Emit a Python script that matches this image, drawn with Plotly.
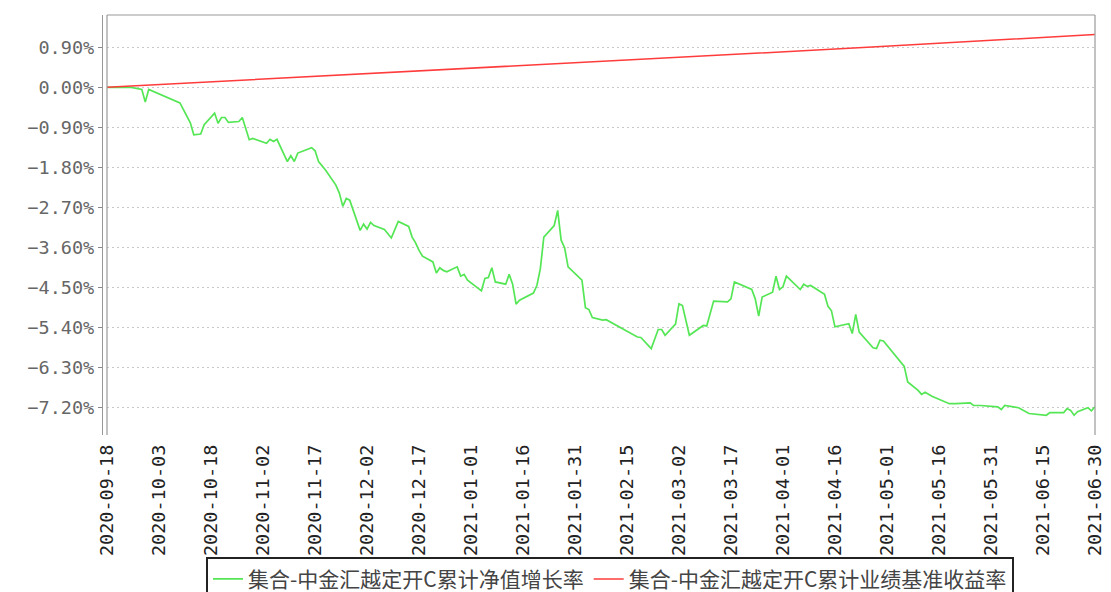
import plotly.graph_objects as go

# ---- data ----
fund_name = "集合-中金汇越定开C累计净值增长率"
bench_name = "集合-中金汇越定开C累计业绩基准收益率"

fund_dates = [
    "2020-09-18", "2020-09-21", "2020-09-25", "2020-09-28", "2020-09-29", "2020-09-30",
    "2020-10-09", "2020-10-12", "2020-10-13", "2020-10-15", "2020-10-16", "2020-10-19",
    "2020-10-20", "2020-10-21", "2020-10-22", "2020-10-23", "2020-10-26", "2020-10-27",
    "2020-10-29", "2020-10-30", "2020-11-03", "2020-11-04", "2020-11-05", "2020-11-06",
    "2020-11-09", "2020-11-10", "2020-11-11", "2020-11-12", "2020-11-16", "2020-11-17",
    "2020-11-18", "2020-11-20", "2020-11-23", "2020-11-24", "2020-11-25", "2020-11-26",
    "2020-11-27", "2020-11-30", "2020-12-01", "2020-12-02", "2020-12-03", "2020-12-04",
    "2020-12-07", "2020-12-09", "2020-12-10", "2020-12-11", "2020-12-14", "2020-12-15",
    "2020-12-16", "2020-12-17", "2020-12-18", "2020-12-21", "2020-12-22", "2020-12-23",
    "2020-12-24", "2020-12-25", "2020-12-28", "2020-12-29", "2020-12-30", "2020-12-31",
    "2021-01-04", "2021-01-05", "2021-01-06", "2021-01-07", "2021-01-08", "2021-01-11",
    "2021-01-12", "2021-01-13", "2021-01-14", "2021-01-15", "2021-01-19", "2021-01-20",
    "2021-01-21", "2021-01-22", "2021-01-25", "2021-01-26", "2021-01-27", "2021-01-28",
    "2021-01-29", "2021-02-02", "2021-02-03", "2021-02-04", "2021-02-05", "2021-02-08",
    "2021-02-09", "2021-02-18", "2021-02-19", "2021-02-22", "2021-02-24", "2021-02-25",
    "2021-02-26", "2021-03-01", "2021-03-02", "2021-03-03", "2021-03-05", "2021-03-09",
    "2021-03-10", "2021-03-12", "2021-03-16", "2021-03-17", "2021-03-18", "2021-03-23",
    "2021-03-24", "2021-03-25", "2021-03-26", "2021-03-29", "2021-03-30", "2021-03-31",
    "2021-04-01", "2021-04-02", "2021-04-06", "2021-04-07", "2021-04-08", "2021-04-09",
    "2021-04-13", "2021-04-14", "2021-04-15", "2021-04-16", "2021-04-20", "2021-04-21",
    "2021-04-22", "2021-04-23", "2021-04-27", "2021-04-28", "2021-04-29", "2021-04-30",
    "2021-05-06", "2021-05-07", "2021-05-10", "2021-05-11", "2021-05-12", "2021-05-14",
    "2021-05-19", "2021-05-21", "2021-05-25", "2021-05-26", "2021-05-28", "2021-06-02",
    "2021-06-03", "2021-06-04", "2021-06-08", "2021-06-11", "2021-06-16", "2021-06-17",
    "2021-06-21", "2021-06-22", "2021-06-23", "2021-06-24", "2021-06-25", "2021-06-28",
    "2021-06-29", "2021-06-30",
]
fund_values = [
    0.00, 0.00, 0.00, -0.05, -0.33, -0.05,
    -0.35, -0.80, -1.07, -1.05, -0.84, -0.58,
    -0.81, -0.68, -0.68, -0.79, -0.77, -0.68,
    -1.18, -1.15, -1.26, -1.17, -1.22, -1.17,
    -1.67, -1.54, -1.67, -1.48, -1.36, -1.43,
    -1.67, -1.86, -2.20, -2.38, -2.68, -2.50,
    -2.54, -3.22, -3.08, -3.19, -3.04, -3.11,
    -3.20, -3.39, -3.20, -3.02, -3.13, -3.37,
    -3.50, -3.67, -3.80, -3.93, -4.18, -4.06,
    -4.12, -4.15, -4.04, -4.25, -4.21, -4.34,
    -4.58, -4.30, -4.28, -4.06, -4.38, -4.43,
    -4.21, -4.43, -4.88, -4.79, -4.63, -4.46,
    -4.08, -3.37, -3.11, -2.77, -3.44, -3.61,
    -4.04, -4.34, -4.96, -5.00, -5.18, -5.24,
    -5.23, -5.62, -5.63, -5.88, -5.45, -5.45,
    -5.58, -5.33, -4.87, -4.91, -5.58, -5.36,
    -5.37, -4.81, -4.83, -4.76, -4.38, -4.55,
    -4.76, -5.15, -4.72, -4.61, -4.25, -4.55,
    -4.49, -4.25, -4.55, -4.43, -4.48, -4.46,
    -4.66, -4.93, -5.03, -5.39, -5.32, -5.54,
    -5.11, -5.51, -5.86, -5.88, -5.69, -5.71,
    -6.28, -6.63, -6.82, -6.91, -6.86, -6.95,
    -7.12, -7.12, -7.10, -7.16, -7.16, -7.19,
    -7.25, -7.16, -7.21, -7.34, -7.38, -7.32,
    -7.32, -7.23, -7.27, -7.38, -7.30, -7.21,
    -7.28, -7.19,
]

bench_dates = ["2020-09-18", "2020-11-11", "2021-02-12", "2021-04-28", "2021-06-30"]
bench_values = [0.00, 0.22, 0.61, 0.91, 1.19]

x_range = ["2020-09-17 23:00", "2021-06-30 01:00"]
x_tick0 = "2020-09-18"
x_tick_days = 15
y_range = [-7.824, 1.627]
y_step = 0.90

# ---- figure ----
W, H = 1111, 592
ML, MR, MT, MB = 102, 16, 15, 157
plot_w = W - ML - MR

fig = go.Figure()
fig.add_trace(go.Scatter(
    x=fund_dates, y=fund_values, name=fund_name, mode="lines",
    line=dict(color="#55e655", width=1.7),
))
fig.add_trace(go.Scatter(
    x=bench_dates, y=bench_values, name=bench_name, mode="lines",
    line=dict(color="#ff3b3b", width=1.5),
))

frame = dict(color="#999999", width=1.2)
for x0, y0, x1, y1 in [(0, 0, 0, 1), (0, 1, 1, 1), (1, 1, 1, 0)]:
    fig.add_shape(type="line", xref="x domain", yref="y domain",
                  x0=x0, y0=y0, x1=x1, y1=y1, line=frame, layer="above")

fig.update_layout(
    template="none",
    width=W, height=H,
    margin=dict(l=ML, r=MR, t=MT, b=MB, autoexpand=False),
    paper_bgcolor="white", plot_bgcolor="white",
    showlegend=True,
    legend=dict(
        orientation="h", x=(610 - ML) / plot_w, xanchor="center",
        y=-0.29, yanchor="top",
        bordercolor="#222222", borderwidth=2, bgcolor="white",
        font=dict(family="Noto Sans CJK SC", size=21, color="#444444"),
        itemwidth=30,
    ),
    xaxis=dict(
        type="date", domain=[5 / plot_w, 1], range=x_range,
        tick0=x_tick0, dtick=x_tick_days * 86400000, tickformat="%Y-%m-%d",
        tickangle=-90, ticks="", showgrid=False, showline=False, zeroline=False,
        ticklabelstandoff=5,
        tickfont=dict(family="DejaVu Sans Mono", size=18.5, color="#222222"),
        automargin=False,
    ),
    yaxis=dict(
        anchor="free", position=0, range=y_range,
        tick0=0, dtick=y_step, tickformat=".2f", ticksuffix="%",
        ticks="outside", ticklen=4, tickcolor="#888888",
        showline=True, linecolor="#999999", linewidth=1.2,
        showgrid=True, gridcolor="#c8c8c8", gridwidth=1, griddash="2px,3px",
        zeroline=False,
        tickfont=dict(family="DejaVu Sans Mono", size=18.5, color="#666666"),
        automargin=False,
    ),
)

fig.write_html(
    "out.html",
    config={"displayModeBar": False},
    post_script="document.body.style.margin='0';document.body.style.overflow='hidden';",
)
